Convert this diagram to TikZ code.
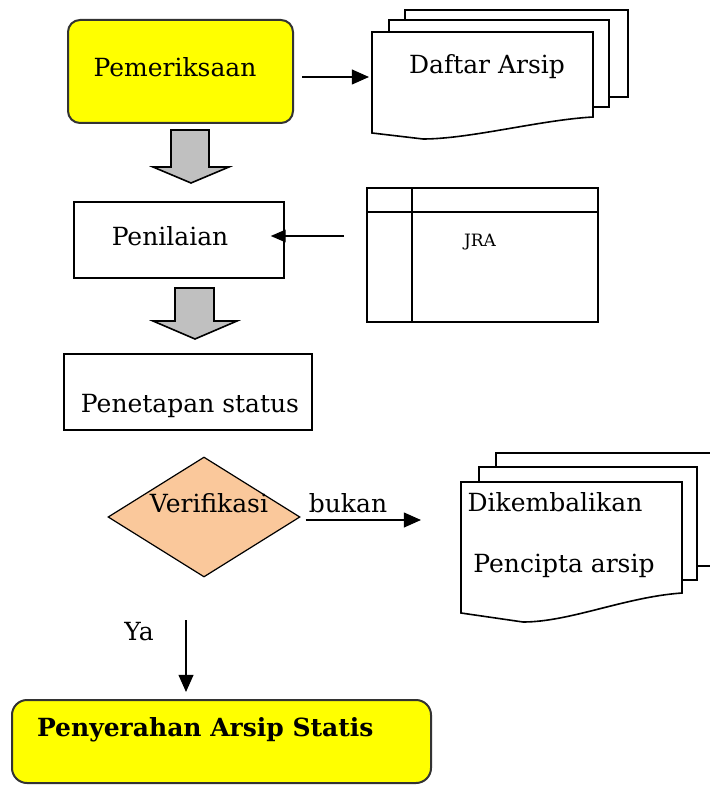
\documentclass[tikz,border=0pt]{standalone}
\usepackage{fontspec}
\setmainfont{DejaVu Serif}
\usetikzlibrary{arrows.meta,positioning,shapes.geometric,calc}
\definecolor{kuning}{RGB}{255,255,0}
\definecolor{abu}{RGB}{192,192,192}
\definecolor{oranye}{RGB}{250,200,155}

\begin{document}
\begin{tikzpicture}[
x=0.5pt, y=-0.5pt,
font=\fontsize{12.5}{15}\selectfont,
proses/.style={
rectangle,
draw=black!80,
line width=1pt,
rounded corners=6pt,
fill=kuning,
align=center
},
kotak/.style={rectangle, draw, thick, align=center},
keputusan/.style={diamond, draw, semithick, fill=oranye, minimum width=96pt, minimum height=60pt, inner sep=0pt},
lembar/.style={draw, thick, fill=white},
blok/.style={draw, thick, fill=abu},
seta/.style={-{Triangle[length=3mm,width=2.6mm]}, thick},
setatipis/.style={-{Triangle[length=2.6mm,width=2.2mm]}, semithick}
]
\useasboundingbox (0,0) rectangle (709,785);

\node[proses, minimum width=112.5pt, minimum height=51.5pt] (periksa) at (180.5,71.5) {};
\node (tperiksa) at (175,67) {Pemeriksaan};

\draw[lembar] (405,10) rectangle (628,97);
\draw[lembar] (389,20) rectangle (609,107);
\draw[lembar] (372,32) -- (593,32) -- (593,117) .. controls (540,120) and (470,139) .. (423,139) -- (372,133) -- cycle;
\node (daftar) at (487,67) {Daftar Arsip};
\coordinate (daftarkiri) at (369,77);

\draw[blok] (171,130) -- (209,130) -- (209,167) -- (229,167) -- (191,183) -- (153,167) -- (171,167) -- cycle;

\node[kotak, minimum width=105pt, minimum height=38pt] (nilai) at (179,240) {};
\node (tnilai) at (170,236) {Penilaian};

\node[kotak, minimum width=115.5pt, minimum height=67pt] (jra) at (482.5,255) {};
\draw[thick] ($(jra.north west)+(46,0)$) -- ($(jra.south west)+(46,0)$);
\draw[thick] ($(jra.north west)+(0,25)$) -- ($(jra.north east)+(0,25)$);
\node[font=\fontsize{8.5}{10}\selectfont] (tjra) at (480,242) {JRA};
\coordinate (jraujung) at (344,236);

\draw[blok] (175,288) -- (214,288) -- (214,321) -- (237,321) -- (195,339) -- (153,321) -- (175,321) -- cycle;

\node[kotak, minimum width=124pt, minimum height=38pt] (tetap) at (188,392) {};
\node (ttetap) at (190,406) {Penetapan status};

\node[keputusan] (verif) at (204,517) {};
\node (tverif) at (209,503) {Verifikasi};
\node (bukan) at (348,503) {bukan};
\coordinate (kembalikiri) at (421,520);

\draw[lembar] (496,453) rectangle (716,566);
\draw[lembar] (479,467) rectangle (697,580);
\draw[lembar] (461,482) -- (682,482) -- (682,593) .. controls (625,597) and (570,622) .. (523,622) -- (461,613) -- cycle;
\node (kembali) at (555,502) {Dikembalikan};
\node (pencipta) at (564,566) {Pencipta arsip};

\node (ya) at (139,632) {Ya};
\coordinate (yaatas) at (186,620);

\node[proses, rounded corners=7.5pt, minimum width=209.5pt, minimum height=41.5pt] (serah) at (221.5,741.5) {};
\node[font=\fontsize{12.5}{15}\selectfont\bfseries, anchor=west] (tserah) at (30,730) {Penyerahan Arsip Statis};

\draw[seta, shorten <=4pt] (periksa.east |- daftarkiri) -- (daftarkiri);
\draw[setatipis] (jraujung) -- ($(nilai.east |- jraujung)+(-14,0)$);
\draw[seta, shorten <=2.5pt] (verif.east |- kembalikiri) -- (kembalikiri);
\draw[seta, shorten >=3.5pt] (yaatas) -- (yaatas |- serah.north);
\end{tikzpicture}
\end{document}
